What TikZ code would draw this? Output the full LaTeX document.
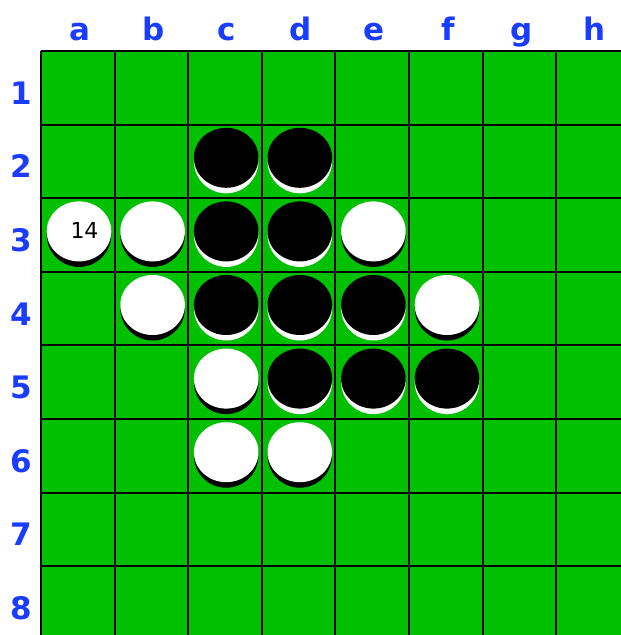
\documentclass[tikz,border=0pt]{standalone}
\usepackage{fontspec}
\newfontfamily\lblfont{DejaVu Sans}
\definecolor{boardgreen}{RGB}{0,192,0}
\definecolor{lblue}{RGB}{25,60,255}
\newcommand\othdisc[4]{%
  \fill[#4] ({41+73.6*(#1+0.5)+1.2},{51+73.6*(#2+0.5)-0.4}) circle[radius=32.3];
  \fill[#3] ({41+73.6*(#1+0.5)+1.2},{51+73.6*(#2+0.5)-3.6}) ellipse[x radius=32.3, y radius=30];
}
\begin{document}
\begin{tikzpicture}[x=1pt,y=-1pt,
  collbl/.style={font=\lblfont\bfseries\fontsize{31}{31}\selectfont, text=lblue, anchor=base, inner sep=0pt},
  gridline/.style={line width=2pt, black}]
\fill[white] (0,0) rectangle (621,635);
\useasboundingbox (0,0) rectangle (621,635);
\begin{scope}
\clip (0,0) rectangle (621,635);
\fill[boardgreen] (41,51) rectangle (640,645);
\foreach \i in {0,...,8} {
  \draw[gridline] ({41+73.6*\i},51) -- ({41+73.6*\i},645);
  \draw[gridline] (41,{51+73.6*\i}) -- (640,{51+73.6*\i});
}
% discs: col, row, colour, shadow colour
\othdisc{2}{1}{black}{white}
\othdisc{3}{1}{black}{white}
\othdisc{0}{2}{white}{black}
\othdisc{1}{2}{white}{black}
\othdisc{2}{2}{black}{white}
\othdisc{3}{2}{black}{white}
\othdisc{4}{2}{white}{black}
\othdisc{1}{3}{white}{black}
\othdisc{2}{3}{black}{white}
\othdisc{3}{3}{black}{white}
\othdisc{4}{3}{black}{white}
\othdisc{5}{3}{white}{black}
\othdisc{2}{4}{white}{black}
\othdisc{3}{4}{black}{white}
\othdisc{4}{4}{black}{white}
\othdisc{5}{4}{black}{white}
\othdisc{2}{5}{white}{black}
\othdisc{3}{5}{white}{black}
\end{scope}
\node[font=\lblfont\fontsize{22}{22}\selectfont, inner sep=0pt] (n14) at (84.5,230.5) {14};
\foreach \c [count=\k from 0] in {a,b,c,d,e,f,g,h}
  \node[collbl] (col\c) at ({41+73.6*(\k+0.5)+2},40.7) {\c};
\foreach \r [count=\k from 0] in {1,...,8}
  \node[collbl] (row\r) at (21,{51+73.6*(\k+0.5)+16.5}) {\r};
\end{tikzpicture}
\end{document}
